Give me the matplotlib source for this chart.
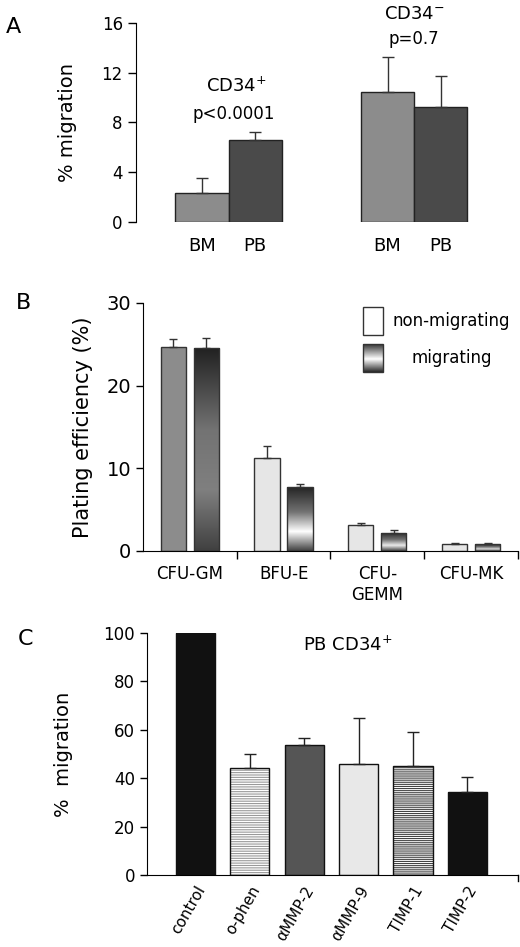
import numpy as np
import matplotlib
matplotlib.use('Agg')
import matplotlib.pyplot as plt
from matplotlib.colors import LinearSegmentedColormap

# panel A
a_labels = ['BM', 'PB', 'BM', 'PB']
a_values = [2.33, 6.6, 10.45, 9.25]
a_err = [1.22, 0.6, 2.85, 2.5]

# panel B
b_cats = ['CFU-GM', 'BFU-E', 'CFU-\nGEMM', 'CFU-MK']
b_nonmig = [24.7, 11.25, 3.15, 0.8]
b_nonmig_err = [0.9, 1.45, 0.25, 0.15]
b_mig = [24.55, 7.75, 2.2, 0.8]
b_mig_err = [1.25, 0.35, 0.35, 0.2]

# panel C
c_labels = ['control', 'o-phen', '\u03b1MMP-2', '\u03b1MMP-9', 'TIMP-1', 'TIMP-2']
c_values = [100, 44.4, 53.8, 45.8, 45.1, 34.3]
c_err = [0, 5.5, 3.0, 19.0, 14.1, 6.1]

plt.rcParams['font.family'] = 'DejaVu Sans'
plt.rcParams['hatch.linewidth'] = 0.8

fig = plt.figure(figsize=(5.2, 9.47), dpi=100)

# ---------- A ----------
axA = fig.add_axes([0.2615, 0.7656, 0.70, 0.2101])
a_pos = [0, 1, 3.5, 4.5]
a_cols = ['#8c8c8c', '#4a4a4a', '#8c8c8c', '#4a4a4a']
axA.bar(a_pos, a_values, width=1.0, color=a_cols, edgecolor='#222222', linewidth=1)
axA.errorbar(a_pos, a_values, yerr=[np.zeros(4), a_err], fmt='none',
             ecolor='#333333', elinewidth=1, capsize=4)
axA.set_xlim(-1.245, 5.62)
axA.set_ylim(0, 16)
axA.set_yticks([0, 4, 8, 12, 16])
axA.tick_params(axis='y', labelsize=12, length=6, width=1, direction='out')
axA.spines[['top', 'right', 'bottom']].set_visible(False)
axA.set_xticks([])
for p, l in zip(a_pos, a_labels):
    axA.text(p, -1.2, l, ha='center', va='top', fontsize=13)
axA.set_ylabel('% migration', fontsize=14, labelpad=18)
axA.text(0.65, 10.9, 'CD34$^{+}$', ha='center', va='center', fontsize=13)
axA.text(0.6, 8.7, 'p<0.0001', ha='center', va='center', fontsize=12)
axA.text(4.0, 16.7, 'CD34$^{-}$', ha='center', va='center', fontsize=13, clip_on=False)
axA.text(4.0, 14.7, 'p=0.7', ha='center', va='center', fontsize=12)
fig.text(0.012, 0.972, 'A', fontsize=16, va='center')

# ---------- B ----------
axB = fig.add_axes([0.275, 0.4182, 0.721, 0.2619])
x = np.arange(4) + 0.5
off = 0.176
w = 0.27
non_cols = ['#8c8c8c', '#e6e6e6', '#e6e6e6', '#e6e6e6']
axB.bar(x - off, b_nonmig, width=w, color=non_cols, edgecolor='#333333', linewidth=1)
peaks = [0.5, 1.0, 0.92, 0.85]
mig_bars = axB.bar(x + off, b_mig, width=w, color='none', edgecolor='#333333', linewidth=1, zorder=3)
for bar, pk in zip(mig_bars, peaks):
    cm = LinearSegmentedColormap.from_list('g', [(0, (0.25, 0.25, 0.25)),
                                                 (0.3, (pk, pk, pk)),
                                                 (0.6, (0.45, 0.45, 0.45)),
                                                 (1, (0.13, 0.13, 0.13))])
    grad = np.linspace(0, 1, 256).reshape(-1, 1)
    x0, y0 = bar.get_x(), bar.get_y()
    im = axB.imshow(grad, cmap=cm, aspect='auto', origin='lower',
                    extent=[x0, x0 + bar.get_width(), y0, y0 + bar.get_height()], zorder=2)
    im.set_clip_path(bar)
axB.errorbar(x - off, b_nonmig, yerr=[np.zeros(4), b_nonmig_err], fmt='none',
             ecolor='#333333', elinewidth=1, capsize=3)
axB.errorbar(x + off, b_mig, yerr=[np.zeros(4), b_mig_err], fmt='none',
             ecolor='#333333', elinewidth=1, capsize=3)
axB.set_xlim(0, 4)
axB.set_ylim(0, 30)
axB.set_yticks([0, 10, 20, 30])
axB.set_xticks([1, 2, 3, 4])
axB.set_xticklabels([])
axB.set_xticks(x, minor=True)
axB.set_xticklabels(b_cats, minor=True, fontsize=12)
axB.tick_params(axis='x', which='minor', length=0, pad=10)
axB.tick_params(axis='x', which='major', length=6, width=1, direction='out')
axB.tick_params(axis='y', labelsize=14, length=5, width=1, direction='out')
axB.spines[['top', 'right']].set_visible(False)
axB.set_ylabel('Plating efficiency (%)', fontsize=15, labelpad=10)
# legend drawn by hand
axB.add_patch(plt.Rectangle((2.35, 26.15), 0.21, 3.4, facecolor='white',
                            edgecolor='#333333', linewidth=1))
sw = plt.Rectangle((2.35, 21.6), 0.21, 3.4, facecolor='none', edgecolor='#333333', linewidth=1, zorder=3)
axB.add_patch(sw)
cmL = LinearSegmentedColormap.from_list('l', [(0, (0.15, 0.15, 0.15)), (0.45, (1, 1, 1)),
                                              (1, (0.15, 0.15, 0.15))])
imL = axB.imshow(np.linspace(0, 1, 256).reshape(-1, 1), cmap=cmL, aspect='auto', origin='lower',
                 extent=[2.35, 2.56, 21.6, 25.0], zorder=2)
imL.set_clip_path(sw)
axB.text(2.66, 27.8, 'non-migrating', fontsize=12, va='center')
axB.text(2.86, 23.3, 'migrating', fontsize=12, va='center')
fig.text(0.03, 0.68, 'B', fontsize=16, va='center')

# ---------- C ----------
axC = fig.add_axes([0.2827, 0.076, 0.7135, 0.2555])
pos = np.arange(6)
cw = 0.72
c_face = ['#111111', 'white', '#555555', '#e8e8e8', 'white', '#111111']
c_hatch = [None, '-------', None, None, '--------', None]
c_hcol = ['#111111', '#999999', '#555555', '#e8e8e8', '#444444', '#111111']
for p, v, fc, h, hc in zip(pos, c_values, c_face, c_hatch, c_hcol):
    axC.bar(p, v, width=cw, color=fc, hatch=h, edgecolor=hc, linewidth=0)
    axC.bar(p, v, width=cw, color='none', edgecolor='#111111', linewidth=1)
axC.errorbar(pos[1:], c_values[1:], yerr=[np.zeros(5), c_err[1:]], fmt='none',
             ecolor='#222222', elinewidth=1, capsize=4)
axC.set_xlim(-0.89, 5.93)
axC.set_ylim(0, 100)
axC.set_yticks([0, 20, 40, 60, 80, 100])
axC.tick_params(axis='y', labelsize=12, length=5, width=1, direction='out')
axC.set_xticks(pos)
axC.set_xticklabels(c_labels, rotation=60, ha='right', rotation_mode='anchor', fontsize=11)
axC.tick_params(axis='x', length=0, pad=6)
axC.spines[['top', 'right']].set_visible(False)
axC.plot([5.93, 5.93], [0, -2.5], color='black', lw=1, clip_on=False)
axC.set_ylabel('%  migration', fontsize=14, labelpad=22)
axC.text(2.8, 95, 'PB CD34$^{+}$', ha='center', va='center', fontsize=13)
fig.text(0.035, 0.325, 'C', fontsize=16, va='center')

fig.savefig('out.png', dpi=100)
